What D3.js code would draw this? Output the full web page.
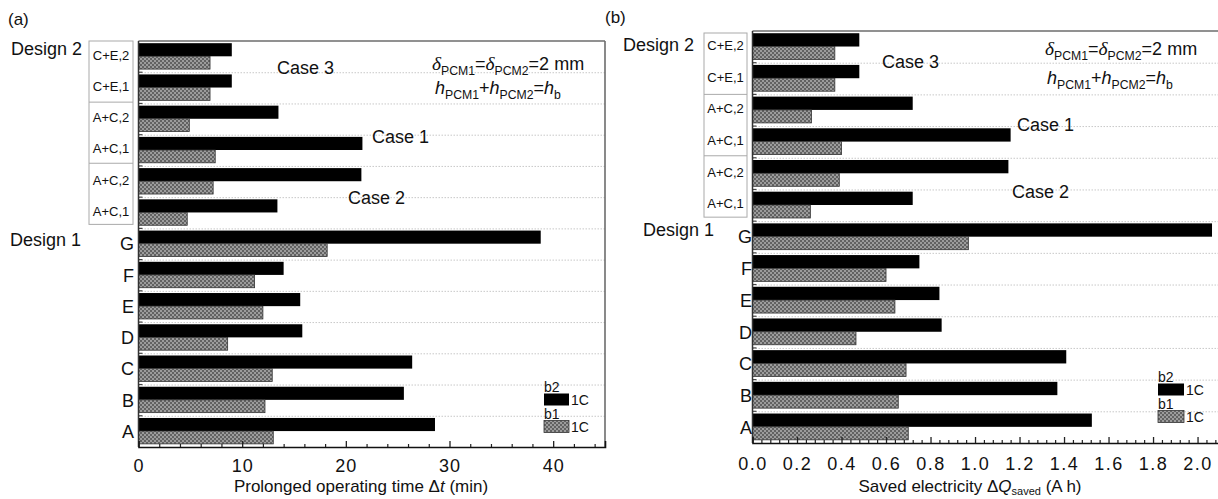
<!DOCTYPE html>
<html>
<head>
<meta charset="utf-8">
<script src="https://cdn.jsdelivr.net/npm/d3@7"></script>
<style>
  body { margin: 0; background: #fff; }
  svg { display: block; font-family: "Liberation Sans", Arial, sans-serif; }
</style>
</head>
<body>
<svg id="chart" width="1218" height="499"></svg>
<script>
// rows from top to bottom: first six are Design 2 (boxed), the rest Design 1
const rowNames = ['C+E,2', 'C+E,1', 'A+C,2', 'A+C,1', 'A+C,2', 'A+C,1', 'G', 'F', 'E', 'D', 'C', 'B', 'A'];
const boxedRows = 6;

// (a) prolonged operating time, min
const timeB2 = [9.0, 9.0, 13.5, 21.6, 21.5, 13.4, 38.8, 14.0, 15.6, 15.8, 26.4, 25.6, 28.6];
const timeB1 = [6.9, 6.9, 4.9, 7.4, 7.2, 4.7, 18.2, 11.2, 12.0, 8.6, 12.9, 12.2, 13.0];
const timeTicks = [0, 10, 20, 30, 40];

// (b) saved electricity, A h
const elecB2 = [0.48, 0.48, 0.72, 1.16, 1.15, 0.72, 2.065, 0.75, 0.84, 0.85, 1.41, 1.37, 1.525];
const elecB1 = [0.37, 0.37, 0.265, 0.40, 0.39, 0.26, 0.97, 0.60, 0.64, 0.465, 0.69, 0.655, 0.70];
const elecTicks = [0, 0.2, 0.4, 0.6, 0.8, 1.0, 1.2, 1.4, 1.6, 1.8, 2.0];

const svg = d3.select('#chart');

// gray dotted fill of the b1 bars
const pat = svg.append('defs').append('pattern')
  .attr('id', 'dots').attr('patternUnits', 'userSpaceOnUse')
  .attr('width', 4).attr('height', 4);
pat.append('rect').attr('width', 4).attr('height', 4).attr('fill', '#9c9c9c');
pat.append('rect').attr('width', 2).attr('height', 2).attr('fill', '#626262');
pat.append('rect').attr('x', 2).attr('y', 2).attr('width', 2).attr('height', 2).attr('fill', '#626262');

// text with italic letters and subscripts
function richText(g, x, y, parts, size) {
  const t = g.append('text').attr('x', x).attr('y', y).attr('font-size', size).attr('fill', '#111');
  let down = false;
  parts.forEach(p => {
    const s = t.append('tspan').text(p.t);
    if (p.italic) s.attr('font-style', 'italic');
    if (p.serif) s.attr('font-family', '"Liberation Serif", "Times New Roman", serif').attr('font-size', size * 1.08);
    if (p.sub && !down) { s.attr('dy', size * 0.28).attr('font-size', size * 0.68); down = true; }
    else if (p.sub) s.attr('font-size', size * 0.68);
    else if (down) { s.attr('dy', -size * 0.28); down = false; }
  });
  return t;
}

function drawPanel(cfg) {
  const g = svg.append('g');
  const x = d3.scaleLinear().domain(cfg.domain).range([cfg.left, cfg.right]);
  const y = d3.scaleBand().domain(d3.range(rowNames.length)).range([cfg.top, cfg.bottom]);
  const bw = y.bandwidth();

  // dotted separators between rows
  g.append('g').selectAll('line')
    .data(d3.range(1, rowNames.length))
    .join('line')
    .attr('x1', cfg.left).attr('x2', cfg.right)
    .attr('y1', i => y(i) + 0.5).attr('y2', i => y(i) + 0.5)
    .attr('stroke', '#c8c8c8').attr('stroke-width', 1).attr('stroke-dasharray', '1.5,1.5');

  // short marks on the left axis at row boundaries
  g.append('g').selectAll('line')
    .data(d3.range(1, rowNames.length))
    .join('line')
    .attr('x1', cfg.left).attr('x2', cfg.left + 4)
    .attr('y1', i => y(i)).attr('y2', i => y(i))
    .attr('stroke', '#444').attr('stroke-width', 1.2);

  // b2 bars (black)
  g.append('g').selectAll('rect')
    .data(cfg.b2)
    .join('rect')
    .attr('x', x(0))
    .attr('y', (d, i) => y(i) + bw * 0.07)
    .attr('width', d => x(d) - x(0))
    .attr('height', bw * 0.42)
    .attr('fill', '#000');

  // b1 bars (gray dotted)
  g.append('g').selectAll('rect')
    .data(cfg.b1)
    .join('rect')
    .attr('x', x(0))
    .attr('y', (d, i) => y(i) + bw * 0.49)
    .attr('width', d => x(d) - x(0))
    .attr('height', bw * 0.41)
    .attr('fill', 'url(#dots)')
    .attr('stroke', '#333').attr('stroke-width', 0.8);

  // frame: gray top and right, dark left
  g.append('line').attr('x1', cfg.left).attr('x2', cfg.right).attr('y1', cfg.top).attr('y2', cfg.top)
    .attr('stroke', '#6c6c6c').attr('stroke-width', 1.6);
  g.append('line').attr('x1', cfg.right).attr('x2', cfg.right).attr('y1', cfg.top).attr('y2', cfg.bottom)
    .attr('stroke', '#6c6c6c').attr('stroke-width', 1.6);
  g.append('line').attr('x1', cfg.left).attr('x2', cfg.left).attr('y1', cfg.top).attr('y2', cfg.bottom)
    .attr('stroke', '#333').attr('stroke-width', 1.5);

  // bottom axis, ticks pointing inward
  const minor = d3.range(cfg.domain[0], cfg.domain[1] + 1e-9, cfg.minorStep)
    .filter(v => !cfg.ticks.some(t => Math.abs(t - v) < 1e-6));
  g.append('g').attr('transform', `translate(0,${cfg.bottom})`)
    .call(d3.axisBottom(x).tickValues(minor).tickSize(-3).tickFormat(''))
    .call(a => a.select('.domain').remove())
    .call(a => a.selectAll('line').attr('stroke', '#222').attr('stroke-width', 1.2));
  g.append('g').attr('transform', `translate(0,${cfg.bottom})`)
    .call(d3.axisBottom(x).tickValues(cfg.ticks).tickSize(-6).tickPadding(cfg.tickPad).tickFormat(cfg.fmt))
    .call(a => a.select('.domain').attr('stroke', '#111').attr('stroke-width', 1.6))
    .call(a => a.selectAll('line').attr('stroke', '#222').attr('stroke-width', 1.3))
    .call(a => a.selectAll('text').attr('font-size', 18).attr('fill', '#111')
      .attr('font-family', '"Liberation Sans", Arial, sans-serif').attr('letter-spacing', cfg.tickSpacing));

  // Design 1 letters
  g.append('g').selectAll('text')
    .data(rowNames.slice(boxedRows))
    .join('text')
    .attr('x', cfg.letterX)
    .attr('y', (d, i) => y(i + boxedRows) + bw / 2)
    .attr('dy', '0.36em')
    .attr('text-anchor', 'end')
    .attr('font-size', 18).attr('fill', '#111')
    .text(d => d);

  // Design 2 box with three cases
  const boxBottom = y(boxedRows) - cfg.boxTrim;
  const boxH = boxBottom - cfg.boxTop;
  const box = g.append('g');
  box.append('rect')
    .attr('x', cfg.boxX0).attr('y', cfg.boxTop)
    .attr('width', cfg.boxX1 - cfg.boxX0).attr('height', boxH)
    .attr('fill', 'none').attr('stroke', '#aaa').attr('stroke-width', 1);
  box.selectAll('line')
    .data([1, 2])
    .join('line')
    .attr('x1', cfg.boxX0).attr('x2', cfg.boxX1)
    .attr('y1', k => cfg.boxTop + boxH * k / 3).attr('y2', k => cfg.boxTop + boxH * k / 3)
    .attr('stroke', '#aaa').attr('stroke-width', 1);
  box.selectAll('text')
    .data(rowNames.slice(0, boxedRows))
    .join('text')
    .attr('x', (cfg.boxX0 + cfg.boxX1) / 2)
    .attr('y', (d, i) => y(i) + bw / 2 - 1.5)
    .attr('dy', '0.36em')
    .attr('text-anchor', 'middle')
    .attr('font-size', 13).attr('fill', '#111')
    .text(d => d);

  // labels
  g.append('text').attr('x', cfg.panelPos[0]).attr('y', cfg.panelPos[1])
    .attr('font-size', 17).attr('fill', '#111').text(cfg.panel);
  g.append('text').attr('x', cfg.design2[0]).attr('y', cfg.design2[1])
    .attr('font-size', 18).attr('fill', '#111').text('Design 2');
  g.append('text').attr('x', cfg.design1[0]).attr('y', cfg.design1[1])
    .attr('font-size', 18).attr('fill', '#111').text('Design 1');
  cfg.cases.forEach(c => {
    g.append('text').attr('x', c[1]).attr('y', c[2])
      .attr('font-size', 18).attr('fill', '#111').text(c[0]);
  });

  richText(g, cfg.formula[0], cfg.formula[1], [
    { t: 'δ', italic: true, serif: true }, { t: 'PCM1', sub: true },
    { t: '=' }, { t: 'δ', italic: true, serif: true }, { t: 'PCM2', sub: true },
    { t: '=2 mm' }
  ], 18);
  richText(g, cfg.formula[2], cfg.formula[3], [
    { t: 'h', italic: true }, { t: 'PCM1', sub: true },
    { t: '+' }, { t: 'h', italic: true }, { t: 'PCM2', sub: true },
    { t: '=' }, { t: 'h', italic: true }, { t: 'b', sub: true }
  ], 18);

  // legend
  const lg = cfg.legend;
  [['b2', '#000', 0], ['b1', 'url(#dots)', 1]].forEach(([name, fill, k]) => {
    const y0 = lg.y + k * lg.gap;
    g.append('text').attr('x', lg.x).attr('y', y0).attr('font-size', 14).attr('fill', '#111').text(name);
    g.append('rect').attr('x', lg.x).attr('y', y0 + 1.5)
      .attr('width', lg.w).attr('height', 12)
      .attr('fill', fill).attr('stroke', k ? '#333' : 'none').attr('stroke-width', 0.8);
    g.append('text').attr('x', lg.x + lg.w + 2).attr('y', y0 + 12.5)
      .attr('font-size', 14).attr('fill', '#111').text('1C');
  });

  // axis title
  const title = g.append('text').attr('x', cfg.titleX).attr('y', 492)
    .attr('text-anchor', 'middle').attr('font-size', 17).attr('fill', '#111');
  cfg.title.forEach(p => {
    const s = title.append('tspan').text(p.t);
    if (p.italic) s.attr('font-style', 'italic');
    if (p.sub) s.attr('font-size', 11).attr('dy', 3);
    if (p.up) s.attr('dy', -3);
  });
}

drawPanel({
  panel: '(a)', panelPos: [8, 25],
  domain: [0, 45], left: 138.5, right: 605, top: 41, bottom: 447,
  b2: timeB2, b1: timeB1, ticks: timeTicks, minorStep: 2, fmt: d3.format('d'),
  tickPad: 12, tickSpacing: 1,
  letterX: 134,
  boxX0: 89, boxX1: 133, boxTop: 41, boxTrim: 4,
  design2: [11, 55], design1: [10, 246],
  cases: [['Case 3', 277, 74], ['Case 1', 372, 143], ['Case 2', 348, 204]],
  formula: [432, 70, 435, 94],
  legend: { x: 544, y: 392, gap: 27, w: 25 },
  titleX: 361,
  title: [{ t: 'Prolonged operating time Δ' }, { t: 't', italic: true }, { t: ' (min)' }]
});

drawPanel({
  panel: '(b)', panelPos: [605, 23],
  domain: [0, 2.1], left: 752.5, right: 1219.8, top: 31, bottom: 443,
  b2: elecB2, b1: elecB1, ticks: elecTicks, minorStep: 0.04, fmt: d3.format('.1f'),
  tickPad: 14, tickSpacing: 1.5,
  letterX: 752,
  boxX0: 704, boxX1: 747, boxTop: 33, boxTrim: 4,
  design2: [623, 51], design1: [643, 236],
  cases: [['Case 3', 882, 68], ['Case 1', 1017, 131], ['Case 2', 1012, 198]],
  formula: [1045, 55, 1047, 84],
  legend: { x: 1158, y: 382, gap: 27, w: 26 },
  titleX: 970,
  title: [{ t: 'Saved electricity Δ' }, { t: 'Q', italic: true }, { t: 'saved', sub: true }, { t: ' (A h)', up: true }]
});
</script>
</body>
</html>
